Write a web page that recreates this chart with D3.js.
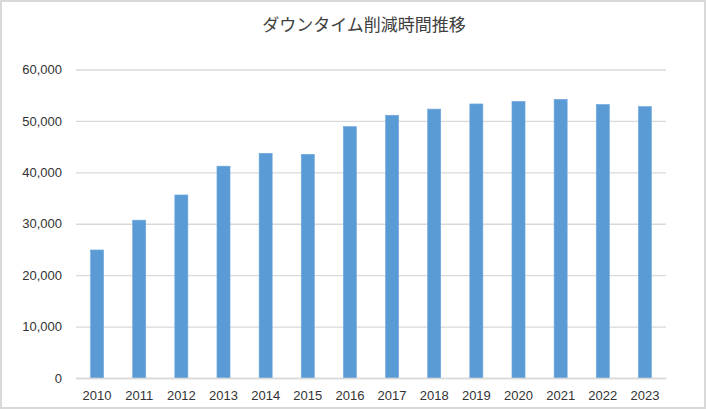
<!DOCTYPE html>
<html><head><meta charset="utf-8">
<script src="https://cdn.jsdelivr.net/npm/d3@7"></script>
<style>body{margin:0;background:#fff}svg{display:block}</style>
</head><body>
<svg id="c" width="706" height="409"></svg>
<script>
const title = "ダウンタイム削減時間推移";
const years = ["2010","2011","2012","2013","2014","2015","2016","2017","2018","2019","2020","2021","2022","2023"];
const values = [24900,30700,35600,41200,43700,43500,48900,51100,52300,53300,53800,54200,53200,52800];
const yTicks = [0,10000,20000,30000,40000,50000,60000];

const svg = d3.select("#c");
const W = 706, H = 409;
const m = {left:76, right:40, top:69.5, bottom:31};
svg.append("rect").attr("x",1).attr("y",1).attr("width",W-2).attr("height",H-2)
  .attr("fill","#fff").attr("stroke","#d9d9d9").attr("stroke-width",2);

const x = d3.scaleBand().domain(years).range([m.left, W-m.right]).paddingInner(0.69).paddingOuter(0.345);
const y = d3.scaleLinear().domain([0,60000]).range([H-m.bottom, m.top]);

svg.append("text").attr("x",364).attr("y",31).attr("text-anchor","middle")
  .attr("font-family","'Noto Sans CJK JP', sans-serif").attr("font-size",17).attr("fill","#404040").text(title);

const ya = svg.append("g").attr("transform",`translate(${m.left},0)`)
  .call(d3.axisLeft(y).tickValues(yTicks).tickSize(-(W-m.left-m.right)).tickPadding(14).tickFormat(d3.format(",")));
ya.select(".domain").remove();
ya.selectAll(".tick line").attr("stroke","#d9d9d9").attr("stroke-width",1.3);
ya.selectAll(".tick text").attr("font-family","'Liberation Sans', Arial, sans-serif").attr("font-size",13).attr("fill","#333");

svg.append("g").selectAll("rect").data(values).join("rect")
  .attr("x",(d,i)=>x(years[i])).attr("width",x.bandwidth())
  .attr("y",d=>y(d)).attr("height",d=>y(0)-y(d))
  .attr("fill","#5b9bd5").attr("stroke","#6ea8dc").attr("stroke-width",0.6);

const xa = svg.append("g").attr("transform",`translate(0,${y(0)})`)
  .call(d3.axisBottom(x).tickSize(0).tickPadding(13));
xa.select(".domain").attr("stroke","#d9d9d9").attr("stroke-width",1.3);
xa.selectAll(".tick text").attr("font-family","'Liberation Sans', Arial, sans-serif").attr("font-size",13).attr("fill","#333");
</script>
</body></html>
